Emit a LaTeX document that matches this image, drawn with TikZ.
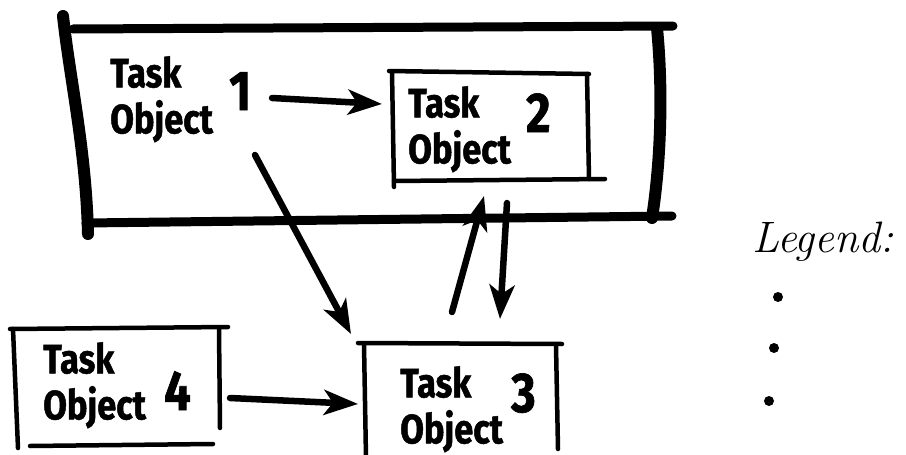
\documentclass[tikz,border=0pt]{standalone}
\usepackage{fontspec}
\newfontfamily\taskfont{Fira Sans}[FakeStretch=0.84, BoldFeatures={FakeBold=1.2}]
\usetikzlibrary{arrows.meta}
\tikzset{
  framev/.style={line width=12pt, line cap=round},
  frameh/.style={line width=9pt, line cap=round},
  boxline/.style={line width=4.5pt, line cap=round},
  conn/.style={line width=6.5pt, line cap=round, -{Stealth[length=34pt,width=25pt,inset=9pt]}},
  tasktext/.style={anchor=north west, inner sep=0pt, align=left, font=\taskfont\bfseries\fontsize{41}{46}\selectfont},
  numtext/.style={anchor=base west, inner sep=0pt, font=\taskfont\bfseries\fontsize{56}{60}\selectfont},
  legtext/.style={anchor=base west, inner sep=0pt, font=\itshape\fontsize{44}{50}\selectfont},
  dot/.style={circle, fill, inner sep=0pt, minimum size=10pt},
}
\begin{document}
\begin{tikzpicture}[x=1pt,y=-1pt]
\useasboundingbox (0,0) rectangle (906,455);
% outer frame (group of task objects 1 and 2)
\draw[frameh] (73,29) -- (673,26);
\draw[frameh] (86,223) -- (672,216);
\draw[framev] (63,16) .. controls (70,80) and (86,150) .. (88,234);
\draw[framev] (657,28) .. controls (663,90) and (661,160) .. (652,218);
% box 2
\draw[boxline] (389,71) -- (589,74);
\draw[boxline] (392,72) -- (394,187);
\draw[boxline] (587,74) -- (589,179);
\draw[boxline] (394,181) -- (605,179);
% box 3
\draw[boxline] (358,343) -- (562,344);
\draw[boxline] (364,344) -- (366,458);
\draw[boxline] (556,345) -- (558,449);
% box 4
\draw[boxline] (10,329) -- (228,327);
\draw[boxline] (13,329) -- (18,448);
\draw[boxline] (219,329) -- (220,428);
\draw[boxline] (30,446) -- (213,444);
% labels
\node[tasktext] (t1) at (110,56) {Task\\Object};
\node[numtext] (n1) at (229,110) {1};
\node[tasktext] (t2) at (408,86) {Task\\Object};
\node[numtext] (n2) at (526,132) {2};
\node[tasktext] (t3) at (400,366) {Task\\Object};
\node[numtext] (n3) at (511,412) {3};
\node[tasktext] (t4) at (43,342) {Task\\Object};
\node[numtext] (n4) at (164,410) {4};
% connector end points
\coordinate (a12s) at (272,98);
\coordinate (a12e) at (382,104);
\coordinate (a13s) at (255,155);
\coordinate (a13e) at (351,334);
\coordinate (a43s) at (230,398);
\coordinate (a43e) at (358,404);
\coordinate (a32s) at (452,312);
\coordinate (a32e) at (484,196);
\coordinate (a23s) at (507,203);
\coordinate (a23e) at (500,319);
\draw[conn] (a12s) -- (a12e);
\draw[conn] (a13s) -- (a13e);
\draw[conn] (a43s) -- (a43e);
\draw[conn] (a32s) -- (a32e);
\draw[conn] (a23s) -- (a23e);
% legend
\node[legtext] (leg) at (752,252) {Legend:};
\node[dot] (d1) at (778,297) {};
\node[dot] (d2) at (774,348) {};
\node[dot] (d3) at (769,401) {};
\end{tikzpicture}
\end{document}
